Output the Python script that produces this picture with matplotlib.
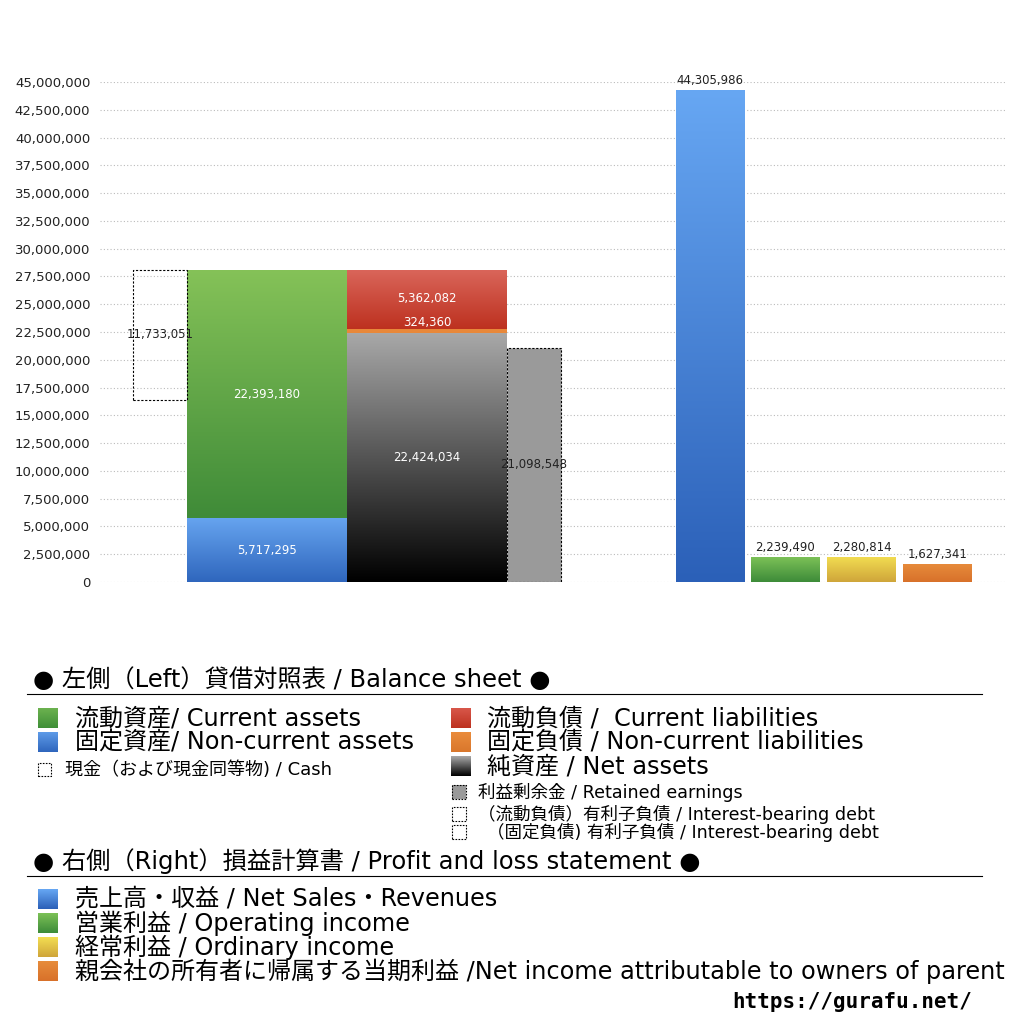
import numpy as np
import matplotlib
matplotlib.use("Agg")
import matplotlib.pyplot as plt
from matplotlib.colors import LinearSegmentedColormap
from matplotlib.patches import Rectangle
from matplotlib.lines import Line2D
from matplotlib.ticker import FuncFormatter

plt.rcParams['font.family'] = ['DejaVu Sans', 'Noto Sans CJK JP']

# 貸借対照表 (左側)
noncurrent_assets = 5717295
current_assets = 22393180
cash = 11733051
net_assets = 22424034
noncurrent_liab = 324360
current_liab = 5362082
retained_earnings = 21098548

# 損益計算書 (右側)
pl_names = ["売上高・収益", "営業利益", "経常利益", "当期利益"]
pl_values = [44305986, 2239490, 2280814, 1627341]
pl_colors = [("#67a7f3", "#2b60b8"), ("#7cc157", "#3d8b39"),
             ("#f3de52", "#cfa53a"), ("#e78c3c", "#d8712a")]

yticks = np.arange(0, 45000001, 2500000)


def grad_bar(ax, x, bottom, height, width, top_col, bot_col, z=2):
    bar = ax.bar(x, height, width, bottom=bottom, color="none", edgecolor="none", zorder=z)[0]
    cmap = LinearSegmentedColormap.from_list("g", [bot_col, top_col])
    img = ax.imshow(np.linspace(0, 1, 256).reshape(-1, 1), cmap=cmap, aspect="auto",
                    origin="lower", zorder=z,
                    extent=[x - width / 2, x + width / 2, bottom, bottom + height])
    img.set_clip_path(bar)
    return bar


fig = plt.figure(figsize=(10.24, 10.24), dpi=100)
ax = fig.add_axes([100 / 1024, 1 - 582 / 1024, 905 / 1024, 500 / 1024])

# 資産側
total_assets = noncurrent_assets + current_assets
grad_bar(ax, 267, 0, noncurrent_assets, 160, "#66a4ef", "#2f66bd")
grad_bar(ax, 267, noncurrent_assets, current_assets, 160, "#85c258", "#3f8b38")
ax.bar(160, cash, 54, bottom=total_assets - cash, fill=False, edgecolor="black",
       linestyle=(0, (2, 1.5)), linewidth=0.8, zorder=3)

# 負債・純資産側
grad_bar(ax, 427, 0, net_assets, 160, "#a9a9a9", "#000000")
ax.bar(427, noncurrent_liab, 160, bottom=net_assets, color="#e8883a", zorder=2)
grad_bar(ax, 427, net_assets + noncurrent_liab, current_liab, 160, "#da665b", "#bd311f")
ax.bar(534, retained_earnings, 54, color="#9a9a9a", edgecolor="black",
       linestyle=(0, (2, 1.5)), linewidth=0.8, zorder=3)

lab = dict(ha="center", va="center", fontsize=8.5, zorder=5)
ax.text(267, noncurrent_assets / 2, f"{noncurrent_assets:,}", color="white", **lab)
ax.text(267, noncurrent_assets + current_assets / 2, f"{current_assets:,}", color="white", **lab)
ax.text(160, total_assets - cash / 2, f"{cash:,}", color="#222222", **lab)
ax.text(427, net_assets / 2, f"{net_assets:,}", color="white", **lab)
ax.text(427, net_assets + noncurrent_liab + 600000, f"{noncurrent_liab:,}", color="white", **lab)
ax.text(427, net_assets + noncurrent_liab + current_liab / 2 + 130000, f"{current_liab:,}",
        color="white", **lab)
ax.text(534, retained_earnings / 2, f"{retained_earnings:,}", color="#222222", **lab)

# 損益計算書
pl_x = [710, 785.5, 861.5, 937.5]
for x, v, (c1, c2) in zip(pl_x, pl_values, pl_colors):
    grad_bar(ax, x, 0, v, 69, c1, c2)
    ax.text(x, v + 250000, f"{v:,}", ha="center", va="bottom", fontsize=8.5,
            color="#222222", zorder=5)

ax.set_xlim(100, 1005)
ax.set_ylim(0, 45000000)
ax.set_yticks(yticks)
ax.yaxis.set_major_formatter(FuncFormatter(lambda v, p: f"{int(v):,}"))
ax.tick_params(axis="y", length=0, labelsize=9.5, pad=7, labelcolor="#222222")
ax.set_xticks([])
for s in ax.spines.values():
    s.set_visible(False)
ax.grid(axis="y", linestyle=(0, (1, 2)), color="#bbbbbb", linewidth=0.8, zorder=0)
ax.set_axisbelow(True)


# 凡例 (ピクセル座標で配置)
def fx(px):
    return px / 1024


def fy(py):
    return 1 - py / 1024


def swatch(x0, y0, size, top_col, bot_col=None, dotted=False, fill=True):
    sax = fig.add_axes([fx(x0), fy(y0 + size), fx(size), size / 1024])
    sax.set_axis_off()
    if fill:
        cmap = LinearSegmentedColormap.from_list("s", [bot_col or top_col, top_col])
        sax.imshow(np.linspace(0, 1, 64).reshape(-1, 1), cmap=cmap, aspect="auto",
                   origin="lower", extent=[0, 1, 0, 1])
    if dotted:
        sax.add_patch(Rectangle((0, 0), 1, 1, fill=False, edgecolor="black",
                                linestyle=(0, (1.5, 1.2)), linewidth=0.8,
                                transform=sax.transAxes, clip_on=False))
    sax.set_xlim(0, 1)
    sax.set_ylim(0, 1)


def txt(x, y, s, size=17.3, **kw):
    fig.text(fx(x), fy(y), s, fontsize=size, va="center", ha="left", color="black", **kw)


txt(33, 680, "● 左側（Left）貸借対照表 / Balance sheet ●", 17.5)
fig.add_artist(Line2D([fx(27), fx(982)], [fy(694), fy(694)], color="black", linewidth=0.8))

swatch(38, 708, 20, "#6cb24f", "#3f8f38")
txt(75, 718, "流動資産/ Current assets")
swatch(38, 732, 20, "#5e9be8", "#2f66bd")
txt(75, 742, "固定資産/ Non-current assets")
swatch(38, 763, 13, None, fill=False, dotted=True)
txt(65, 770, "現金（および現金同等物) / Cash", 13)

swatch(451, 708, 20, "#d8574a", "#bd311f")
txt(487, 718, "流動負債 /  Current liabilities")
swatch(451, 732, 20, "#ea8c3c", "#d9772c")
txt(487, 742, "固定負債 / Non-current liabilities")
swatch(451, 756, 20, "#a9a9a9", "#000000")
txt(487, 766, "純資産 / Net assets")
swatch(452, 785, 14, "#9a9a9a", dotted=True)
txt(478, 792, "利益剰余金 / Retained earnings", 12.6)
swatch(452, 807, 14, None, fill=False, dotted=True)
txt(478, 814, "（流動負債）有利子負債 / Interest-bearing debt", 12.6)
swatch(452, 825, 14, None, fill=False, dotted=True)
txt(487, 832, "（固定負債) 有利子負債 / Interest-bearing debt", 12.6)

txt(33, 861, "● 右側（Right）損益計算書 / Profit and loss statement ●", 17.5)
fig.add_artist(Line2D([fx(27), fx(982)], [fy(876), fy(876)], color="black", linewidth=0.8))

leg_pl = ["売上高・収益 / Net Sales・Revenues", "営業利益 / Operating income",
          "経常利益 / Ordinary income",
          "親会社の所有者に帰属する当期利益 /Net income attributable to owners of parent"]
for i, (s, (c1, c2)) in enumerate(zip(leg_pl, pl_colors)):
    swatch(38, 889 + 24 * i, 20, c1, c2)
    txt(75, 899 + 24 * i, s)

fig.text(fx(972), fy(1002), "https://gurafu.net/", fontsize=15, fontweight="bold",
         ha="right", va="center", family=["DejaVu Sans Mono"])

fig.savefig("out.png", dpi=100)
